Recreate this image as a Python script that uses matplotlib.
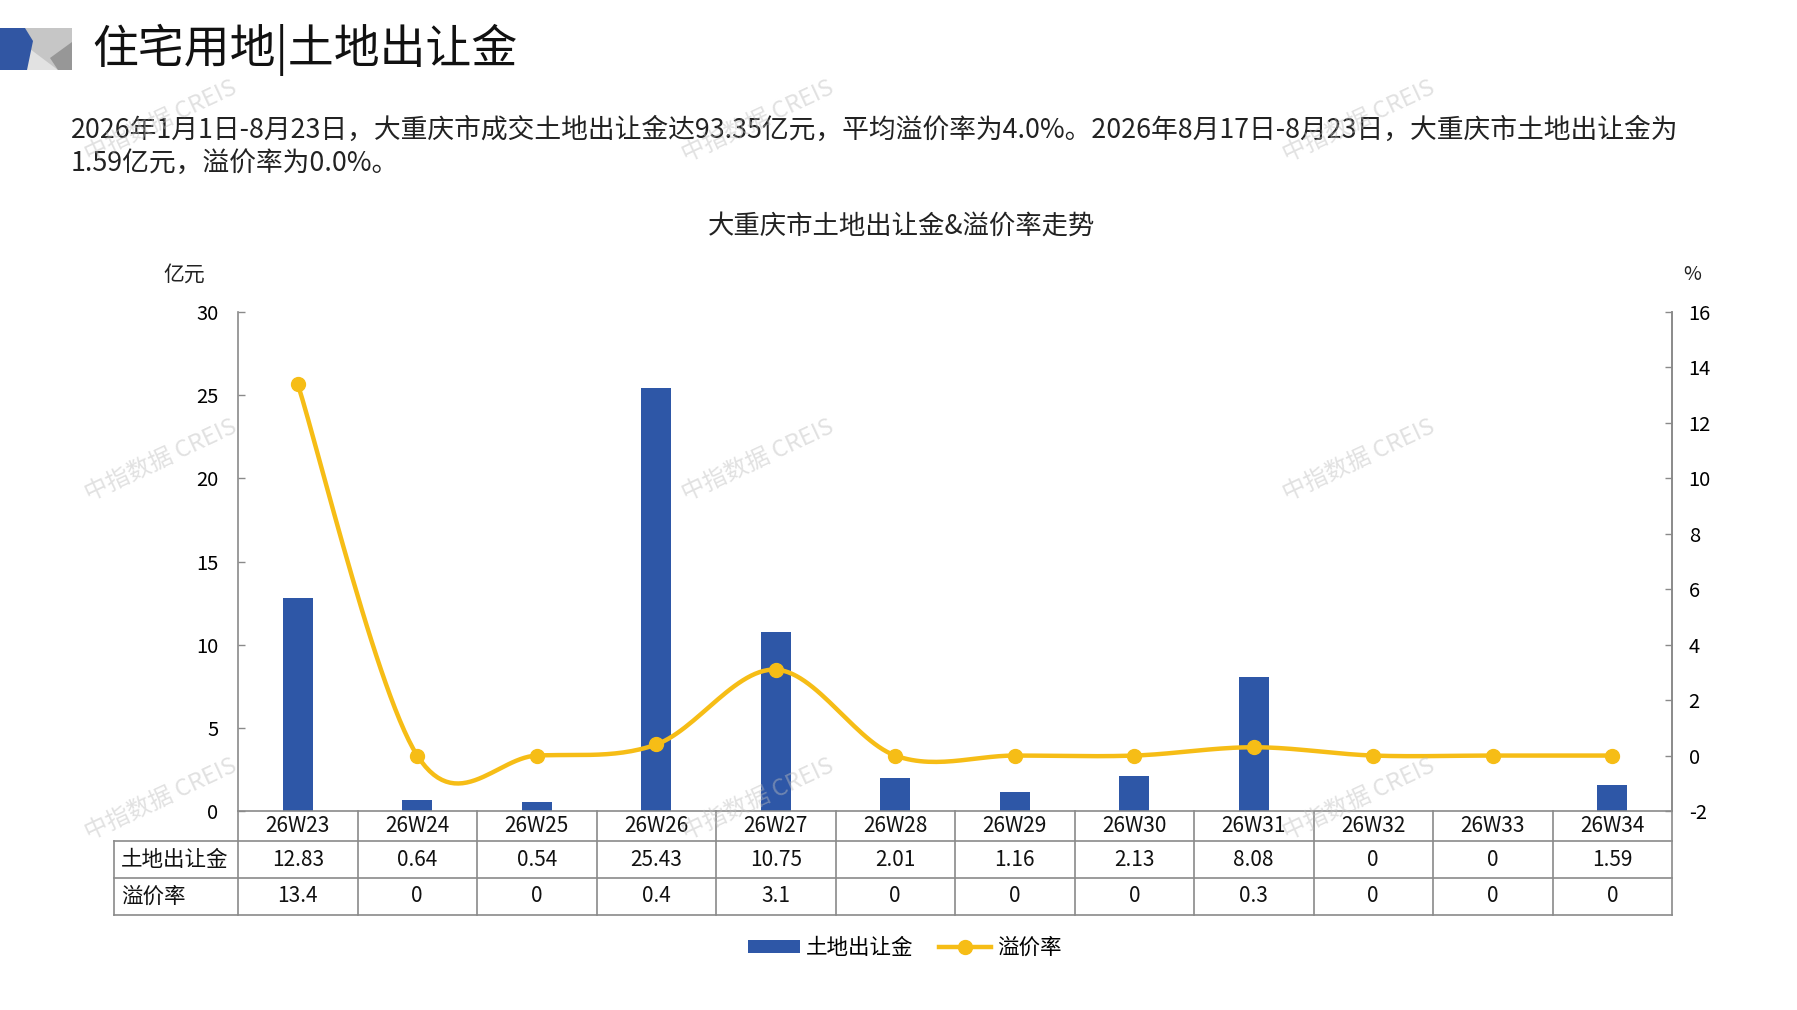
import numpy as np
import matplotlib
matplotlib.use('Agg')
import matplotlib.pyplot as plt
from matplotlib.patches import Polygon, Patch
from matplotlib.lines import Line2D
from matplotlib.transforms import blended_transform_factory

plt.rcParams['font.family'] = ['Noto Sans CJK SC', 'DejaVu Sans']
plt.rcParams['axes.unicode_minus'] = False

# 数据
weeks = ['26W23', '26W24', '26W25', '26W26', '26W27', '26W28',
         '26W29', '26W30', '26W31', '26W32', '26W33', '26W34']
land_fee = [12.83, 0.64, 0.54, 25.43, 10.75, 2.01, 1.16, 2.13, 8.08, 0, 0, 1.59]
premium = [13.4, 0, 0, 0.4, 3.1, 0, 0, 0, 0.3, 0, 0, 0]
row_labels = ['土地出让金', '溢价率']

title = '住宅用地|土地出让金'
para1 = '2026年1月1日-8月23日，大重庆市成交土地出让金达93.35亿元，平均溢价率为4.0%。2026年8月17日-8月23日，大重庆市土地出让金为'
para2 = '1.59亿元，溢价率为0.0%。'
chart_title = '大重庆市土地出让金&溢价率走势'

BAR = '#2E57A7'
LINE = '#F6BD16'
GRID = '#8a8a8a'
W, H = 1797, 1010


def fx(x):
    return x / W


def fy(y):
    return 1 - y / H


# Excel 风格平滑曲线 (Catmull-Rom)
def smooth_curve(xs, ys, steps=30):
    pts = np.column_stack([xs, ys]).astype(float)
    out = []
    n = len(pts)
    t = np.linspace(0, 1, steps)[:, None]
    for i in range(n - 1):
        p0 = pts[i - 1] if i > 0 else pts[i]
        p1 = pts[i]
        p2 = pts[i + 1]
        p3 = pts[i + 2] if i + 2 < n else pts[i + 1]
        c1 = p1 + (p2 - p0) / 6
        c2 = p2 - (p3 - p1) / 6
        seg = ((1 - t) ** 3) * p1 + 3 * ((1 - t) ** 2) * t * c1 + 3 * (1 - t) * t ** 2 * c2 + t ** 3 * p2
        out.append(seg if i == 0 else seg[1:])
    out = np.vstack(out)
    return out[:, 0], out[:, 1]


fig = plt.figure(figsize=(W / 100, H / 100), dpi=100)
fig.patch.set_facecolor('white')

# 左上角图形
def poly(points, color):
    fig.add_artist(Polygon([(fx(a), fy(b)) for a, b in points], closed=True,
                           facecolor=color, edgecolor='none', transform=fig.transFigure))

poly([(20, 28), (72, 28), (72, 70), (20, 70)], '#c6c6c6')
poly([(26, 46), (58, 70), (26, 70)], '#e2e2e2')
poly([(72, 42), (72, 70), (58, 70), (50, 58)], '#979797')
poly([(0, 28), (25, 28), (33, 41), (27, 70), (0, 70)], '#3156A3')

fig.text(fx(92), fy(50), title, fontsize=33, va='center', ha='left', color='#111111')
fig.text(fx(71), fy(130), para1, fontsize=19.3, va='center', ha='left', color='#222222')
fig.text(fx(71), fy(163), para2, fontsize=19.3, va='center', ha='left', color='#222222')
fig.text(fx(902), fy(226), chart_title, fontsize=19, va='center', ha='center', color='#222222')
fig.text(fx(184), fy(275), '亿元', fontsize=15, va='center', ha='center', color='#222222')
fig.text(fx(1692), fy(275), '%', fontsize=14, va='center', ha='center', color='#222222')

# 主图
ax_l, ax_r, ax_t, ax_b = 238, 1672, 312, 811
ax = fig.add_axes([fx(ax_l), fy(ax_b), (ax_r - ax_l) / W, (ax_b - ax_t) / H])
x = np.arange(len(weeks))
ax.bar(x, land_fee, width=0.25, color=BAR, zorder=2)
ax.set_xlim(-0.5, len(weeks) - 0.5)
ax.set_ylim(0, 30)
ax.set_yticks(range(0, 31, 5))
ax.set_xticks([])
ax.tick_params(axis='y', direction='in', length=5, width=1, color=GRID, labelsize=14.5, pad=14)
for s in ['top']:
    ax.spines[s].set_visible(False)
for s in ['left', 'bottom', 'right']:
    ax.spines[s].set_color(GRID)
    ax.spines[s].set_linewidth(1.2)

ax2 = ax.twinx()
ax2.set_ylim(-2, 16)
ax2.set_yticks(range(-2, 17, 2))
sx, sy = smooth_curve(x, premium)
ax2.plot(sx, sy, color=LINE, lw=3.2, solid_capstyle='round', zorder=3)
ax2.plot(x, premium, 'o', color=LINE, ms=10, zorder=4)
ax2.tick_params(axis='y', direction='in', length=5, width=1, color=GRID, labelsize=14.5, pad=12)
ax2.spines['top'].set_visible(False)
ax2.spines['right'].set_color(GRID)
ax2.spines['right'].set_linewidth(1.2)
ax2.spines['left'].set_visible(False)
ax2.spines['bottom'].set_visible(False)

# 数据表
trans = blended_transform_factory(ax.transData, fig.transFigure)
rows_y = [811, 841, 878, 915]
lab_left = 114
line_kw = dict(color=GRID, lw=1.2, transform=fig.transFigure, clip_on=False)
for yy in rows_y[1:]:
    fig.add_artist(Line2D([fx(lab_left), fx(ax_r)], [fy(yy), fy(yy)], **line_kw))
fig.add_artist(Line2D([fx(lab_left), fx(lab_left)], [fy(rows_y[1]), fy(rows_y[3])], **line_kw))
for xb in [ax_l, ax_r]:
    fig.add_artist(Line2D([fx(xb), fx(xb)], [fy(rows_y[0]), fy(rows_y[3])], **line_kw))
for i in range(1, len(weeks)):
    fig.add_artist(Line2D([i - 0.5, i - 0.5], [fy(rows_y[0]), fy(rows_y[3])],
                          color=GRID, lw=1.2, transform=trans, clip_on=False))

mids = [(rows_y[k] + rows_y[k + 1]) / 2 for k in range(3)]
for i, wk in enumerate(weeks):
    fig.text(i, fy(mids[0]), wk, transform=trans, ha='center', va='center', fontsize=15, color='#111111')
    fig.text(i, fy(mids[1]), f'{land_fee[i]:g}', transform=trans, ha='center', va='center', fontsize=15, color='#111111')
    fig.text(i, fy(mids[2]), f'{premium[i]:g}', transform=trans, ha='center', va='center', fontsize=15, color='#111111')
for k, lab in enumerate(row_labels):
    fig.text(fx(121), fy(mids[k + 1]), lab, ha='left', va='center', fontsize=15.5, color='#111111')

# 图例
handles = [Patch(facecolor=BAR, edgecolor='none'),
           Line2D([], [], color=LINE, lw=3.2, marker='o', ms=10)]
fig.legend(handles, row_labels, loc='center', bbox_to_anchor=(fx(905), fy(948)), ncol=2,
           frameon=False, fontsize=15.5, handlelength=2.4, handleheight=0.6, columnspacing=1.2,
           handletextpad=0.3)

# 水印
for wx in [161, 758, 1359]:
    for wy in [121, 460, 799]:
        fig.text(fx(wx), fy(wy), '中指数据 CREIS', fontsize=17, rotation=25, ha='center', va='center',
                 color='#bdbdbd', alpha=0.45, zorder=10)

fig.savefig('out.png', dpi=100, facecolor='white')
